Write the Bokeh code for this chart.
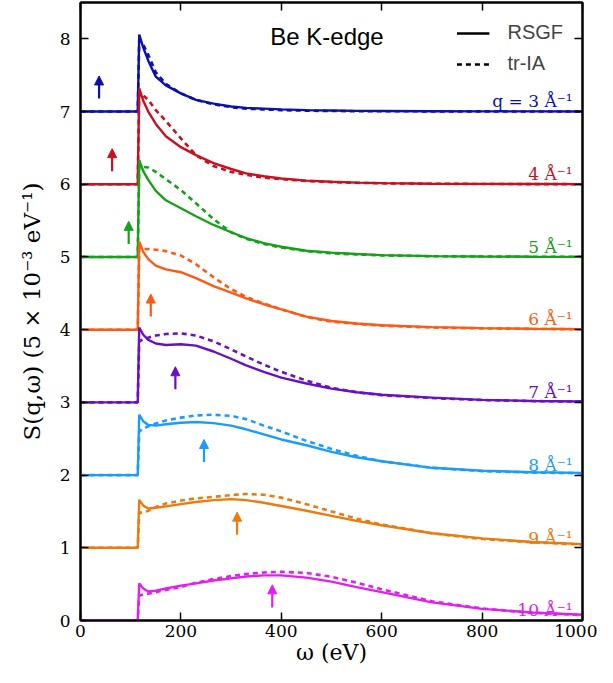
from bokeh.plotting import figure
from bokeh.models import (Range1d, LinearAxis, Arrow, NormalHead, Label, Legend,
                          LegendItem, FixedTicker, ColumnDataSource)
from bokeh.core.properties import value
from bokeh.embed import file_html
from bokeh.resources import INLINE

# energy-loss grid (eV)
omega = [0, 114, 117, 125, 135, 150, 170, 200, 230, 265, 300, 330, 365, 400,
         450, 500, 550, 600, 700, 800, 900, 1000]

# momentum transfers (1/Angstrom) and vertical offsets of each curve
q_values = [3, 4, 5, 6, 7, 8, 9, 10]
offsets = [7, 6, 5, 4, 3, 2, 1, 0]
colors = ["#0a10b0", "#c8101e", "#17a01a", "#ff5a14", "#6a10c4", "#1a9cff", "#ec7a0c", "#e020f0"]
labels = ["q = 3 Å⁻¹", "4 Å⁻¹", "5 Å⁻¹", "6 Å⁻¹", "7 Å⁻¹", "8 Å⁻¹", "9 Å⁻¹", "10 Å⁻¹"]

# Compton peak positions (eV), marked by arrows
compton_peak = [37, 63, 96, 140, 189, 246, 312, 382]

x_ticks = [0, 200, 400, 600, 800, 1000]
y_ticks = [0, 1, 2, 3, 4, 5, 6, 7, 8]

# RSGF (solid) and tr-IA (dashed) spectra, relative to each offset
rsgf_q3 = [0, 0, 1.06, 0.88, 0.70, 0.48, 0.36, 0.25, 0.16, 0.11, 0.07, 0.05, 0.04, 0.03, 0.02, 0.015, 0.01, 0.008, 0.005, 0.003, 0.002, 0.001]
tria_q3 = [0, 0, 0.98, 0.92, 0.78, 0.54, 0.38, 0.25, 0.16, 0.10, 0.06, 0.04, 0.03, 0.02, 0.012, 0.008, 0.005, 0.004, 0.003, 0.002, 0.001, 0.0]
rsgf_q4 = [0, 0, 1.32, 1.15, 1.00, 0.83, 0.66, 0.51, 0.40, 0.29, 0.21, 0.15, 0.11, 0.08, 0.05, 0.035, 0.022, 0.015, 0.008, 0.005, 0.003, 0.002]
tria_q4 = [0, 0, 1.25, 1.22, 1.16, 1.02, 0.87, 0.63, 0.40, 0.25, 0.17, 0.13, 0.09, 0.07, 0.045, 0.03, 0.02, 0.013, 0.007, 0.004, 0.002, 0.001]
rsgf_q5 = [0, 0, 1.33, 1.18, 1.06, 0.91, 0.78, 0.67, 0.56, 0.44, 0.34, 0.26, 0.19, 0.14, 0.085, 0.06, 0.04, 0.025, 0.012, 0.007, 0.004, 0.002]
tria_q5 = [0, 0, 1.25, 1.24, 1.23, 1.17, 1.07, 0.92, 0.74, 0.52, 0.34, 0.25, 0.18, 0.13, 0.08, 0.05, 0.035, 0.022, 0.01, 0.006, 0.003, 0.002]
rsgf_q6 = [0, 0, 1.21, 1.07, 0.97, 0.88, 0.83, 0.79, 0.71, 0.60, 0.51, 0.43, 0.35, 0.28, 0.18, 0.12, 0.085, 0.06, 0.035, 0.022, 0.012, 0.008]
tria_q6 = [0, 0, 1.12, 1.11, 1.11, 1.10, 1.08, 1.02, 0.90, 0.72, 0.56, 0.45, 0.36, 0.28, 0.175, 0.11, 0.08, 0.055, 0.03, 0.018, 0.01, 0.006]
rsgf_q7 = [0, 0, 1.03, 0.93, 0.86, 0.81, 0.79, 0.80, 0.78, 0.70, 0.60, 0.51, 0.42, 0.34, 0.26, 0.19, 0.14, 0.105, 0.065, 0.035, 0.02, 0.012]
tria_q7 = [0, 0, 0.84, 0.87, 0.89, 0.92, 0.94, 0.95, 0.92, 0.84, 0.73, 0.63, 0.52, 0.42, 0.30, 0.20, 0.14, 0.10, 0.06, 0.032, 0.018, 0.01]
rsgf_q8 = [0, 0, 0.83, 0.74, 0.69, 0.68, 0.70, 0.72, 0.73, 0.715, 0.68, 0.63, 0.56, 0.49, 0.41, 0.32, 0.245, 0.19, 0.10, 0.06, 0.04, 0.03]
tria_q8 = [0, 0, 0.60, 0.64, 0.67, 0.71, 0.75, 0.79, 0.82, 0.83, 0.815, 0.77, 0.68, 0.60, 0.47, 0.36, 0.265, 0.19, 0.10, 0.055, 0.035, 0.025]
rsgf_q9 = [0, 0, 0.66, 0.58, 0.54, 0.55, 0.57, 0.60, 0.63, 0.655, 0.67, 0.655, 0.62, 0.575, 0.51, 0.44, 0.37, 0.31, 0.20, 0.13, 0.08, 0.05]
tria_q9 = [0, 0, 0.48, 0.49, 0.51, 0.56, 0.61, 0.65, 0.68, 0.70, 0.725, 0.74, 0.73, 0.69, 0.60, 0.50, 0.40, 0.32, 0.20, 0.12, 0.075, 0.045]
rsgf_q10 = [0, 0, 0.51, 0.44, 0.40, 0.41, 0.44, 0.48, 0.51, 0.55, 0.58, 0.605, 0.62, 0.62, 0.59, 0.535, 0.46, 0.39, 0.25, 0.16, 0.11, 0.08]
tria_q10 = [0, 0, 0.34, 0.36, 0.37, 0.39, 0.42, 0.46, 0.52, 0.57, 0.61, 0.64, 0.66, 0.67, 0.655, 0.60, 0.52, 0.43, 0.265, 0.165, 0.105, 0.075]

rsgf = [rsgf_q3, rsgf_q4, rsgf_q5, rsgf_q6, rsgf_q7, rsgf_q8, rsgf_q9, rsgf_q10]
tria = [tria_q3, tria_q4, tria_q5, tria_q6, tria_q7, tria_q8, tria_q9, tria_q10]

SERIF = "DejaVu Serif"
SANS = "Liberation Sans"

p = figure(width=597, height=667, x_range=Range1d(0, 1000), y_range=Range1d(0, 8.5),
           output_backend="svg", toolbar_location=None,
           x_axis_location=None, y_axis_location=None,
           min_border_left=80, min_border_right=15, min_border_top=2, min_border_bottom=0)
p.grid.visible = False
p.outline_line_color = "black"
p.outline_line_width = 2
p.background_fill_color = "white"

for off, col, s, t in zip(offsets, colors, rsgf, tria):
    p.line(omega, [off + v for v in t], line_color=col, line_width=2.6, line_dash="5 4")
    p.line(omega, [off + v for v in s], line_color=col, line_width=2.4)

for off, col, xp in zip(offsets, colors, compton_peak):
    p.add_layout(Arrow(x_start=xp, y_start=off + 0.18, x_end=xp, y_end=off + 0.49,
                       line_color=col, line_width=2.2,
                       end=NormalHead(size=9, fill_color=col, line_color=col, line_width=1)))

lab_src = ColumnDataSource(dict(x=[980] * 8, y=[o + 0.14 for o in offsets], text=labels, c=colors))
p.text(x="x", y="y", text="text", text_color="c", source=lab_src, text_align="right",
       text_baseline="alphabetic", text_font=value(SERIF), text_font_size=value("17px"))

p.add_layout(Label(x=378, y=7.85, text="Be K-edge", text_font=SANS, text_font_size="24px",
                   text_color="black"))

r1 = p.line(x=[-50, -40], y=[-1, -1], line_color="black", line_width=2.5)
r2 = p.line(x=[-50, -40], y=[-1, -1], line_color="black", line_width=2.5, line_dash="5 4")
leg = Legend(items=[LegendItem(label="RSGF", renderers=[r1]), LegendItem(label="tr-IA", renderers=[r2])],
             location="top_right", border_line_alpha=0, background_fill_alpha=0,
             label_text_font=SANS, label_text_font_size="20px", glyph_width=33,
             spacing=8, margin=12, padding=7, label_standoff=18)
p.add_layout(leg)

xt = FixedTicker(ticks=x_ticks)
yt = FixedTicker(ticks=y_ticks)

bottom = LinearAxis(ticker=xt, axis_label="ω (eV)")
left = LinearAxis(ticker=yt, axis_label="S(q,ω) (5 × 10⁻³ eV⁻¹)")
top = LinearAxis(ticker=xt, major_label_overrides={t: "" for t in x_ticks})
right = LinearAxis(ticker=yt, major_label_overrides={t: "" for t in y_ticks})
p.add_layout(bottom, "below")
p.add_layout(left, "left")
p.add_layout(top, "above")
p.add_layout(right, "right")

for ax in [bottom, left, top, right]:
    ax.major_tick_in = 8
    ax.major_tick_out = 0
    ax.minor_tick_line_color = None
    ax.axis_line_width = 2
    ax.major_tick_line_width = 1.5
    ax.major_tick_line_color = "black"
    ax.axis_line_color = "black"
    ax.major_label_text_font = SERIF
    ax.major_label_text_color = "black"

for ax in [top, right]:
    ax.major_label_standoff = 0

for ax in [bottom, left]:
    ax.major_label_text_font_size = "17px"
    ax.axis_label_text_font = SERIF
    ax.axis_label_text_font_style = "normal"
    ax.axis_label_text_color = "black"
bottom.axis_label_text_font_size = "22px"
left.axis_label_text_font_size = "23px"
bottom.major_label_standoff = 4
bottom.axis_label_standoff = 0
left.major_label_standoff = 10
left.axis_label_standoff = 12

open("out.html", "w").write(file_html(p, INLINE))
